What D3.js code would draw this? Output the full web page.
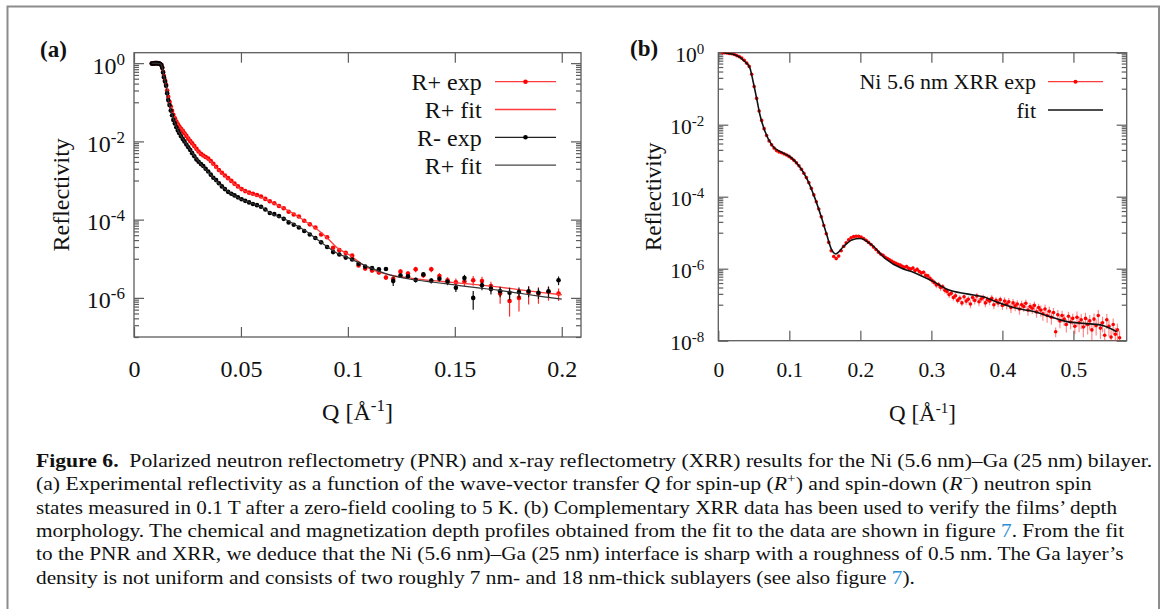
<!DOCTYPE html>
<html>
<head>
<meta charset="utf-8">
<script src="https://cdn.jsdelivr.net/npm/d3@7"></script>
<style>
  body { margin: 0; background: #fff; }
  svg { display: block; }
  text { font-family: "Liberation Serif", "Times New Roman", serif; fill: #111; }
</style>
</head>
<body>
<svg id="fig" width="1165" height="609"></svg>
<script>
// ---- panel (a): PNR, Q in 1/A, reflectivity stored as log10(R) ----
const qPNR = [0.0083, 0.0088, 0.0093, 0.0098, 0.0103, 0.0108, 0.0113, 0.0118, 0.0123, 0.0128,
  0.0132, 0.0136, 0.0140, 0.0145, 0.0150, 0.0155, 0.0160, 0.0166, 0.0172, 0.0178,
  0.0184, 0.0191, 0.0198, 0.0205, 0.0212, 0.0220, 0.0228, 0.0236, 0.0245, 0.0254,
  0.0263, 0.0272, 0.0282, 0.0292, 0.0302, 0.0313, 0.0324, 0.0335, 0.0347, 0.0359,
  0.0371, 0.0384, 0.0397, 0.0411, 0.0425, 0.0440, 0.0455, 0.0470, 0.0486, 0.0503,
  0.0520, 0.0538, 0.0556, 0.0575, 0.0594, 0.0614, 0.0635, 0.0656, 0.0678, 0.0700,
  0.0723, 0.0747, 0.0771, 0.0796, 0.0822, 0.0848, 0.0875, 0.0903, 0.0931, 0.0960,
  0.0990, 0.1020, 0.1050, 0.1081, 0.1113, 0.1145, 0.1178, 0.1212, 0.1246, 0.1281,
  0.1317, 0.1353, 0.1390, 0.1428, 0.1466, 0.1505, 0.1545, 0.1586, 0.1627, 0.1669,
  0.1712, 0.1756, 0.1800, 0.1845, 0.1891, 0.1938, 0.1985];

const rPlusLog = [-0.01, -0.01, -0.01, 0.00, 0.00, 0.00, -0.01, -0.01, -0.02, -0.05,
  -0.11, -0.22, -0.33, -0.44, -0.55, -0.70, -0.86, -0.99, -1.11, -1.22,
  -1.32, -1.41, -1.49, -1.56, -1.62, -1.68, -1.73, -1.79, -1.86, -1.93,
  -1.99, -2.05, -2.12, -2.19, -2.26, -2.32, -2.36, -2.40, -2.44, -2.50,
  -2.57, -2.65, -2.73, -2.80, -2.87, -2.94, -3.01, -3.08, -3.15, -3.22,
  -3.27, -3.31, -3.34, -3.37, -3.41, -3.47, -3.53, -3.58, -3.65, -3.71,
  -3.80, -3.87, -3.92, -4.03, -4.12, -4.20, -4.38, -4.45, -4.72, -4.78,
  -4.85, -4.92, -5.17, -5.25, -5.30, -5.35, -5.48, -5.51, -5.33, -5.38,
  -5.27, -5.42, -5.27, -5.44, -5.55, -5.60, -5.58, -5.55, -5.57, -5.70,
  -5.89, -6.08, -6.00, -5.87, -5.89, -5.85, -5.89];

const rMinusLog = [-0.01, -0.01, -0.01, 0.00, 0.00, 0.00, -0.01, -0.01, -0.02, -0.05,
  -0.12, -0.24, -0.36, -0.47, -0.58, -0.77, -0.94, -1.07, -1.21, -1.33,
  -1.45, -1.54, -1.64, -1.72, -1.79, -1.87, -1.94, -2.00, -2.08, -2.15,
  -2.22, -2.30, -2.38, -2.46, -2.52, -2.58, -2.63, -2.70, -2.77, -2.85,
  -2.93, -2.99, -3.07, -3.15, -3.22, -3.29, -3.34, -3.38, -3.43, -3.48,
  -3.52, -3.56, -3.60, -3.63, -3.67, -3.74, -3.83, -3.86, -3.91, -3.98,
  -4.07, -4.13, -4.20, -4.29, -4.38, -4.47, -4.58, -4.70, -4.83, -4.89,
  -4.97, -5.02, -5.13, -5.20, -5.24, -5.27, -5.26, -5.57, -5.43, -5.45,
  -5.54, -5.40, -5.56, -5.51, -5.59, -5.74, -5.49, -6.00, -5.68, -5.77,
  -5.83, -5.87, -5.85, -5.83, -5.87, -5.83, -5.55];

// relative error dR/R
const errPlus = [0.02, 0.02, 0.02, 0.02, 0.02, 0.02, 0.02, 0.02, 0.02, 0.02,
  0.02, 0.02, 0.02, 0.02, 0.02, 0.02, 0.02, 0.02, 0.02, 0.02,
  0.02, 0.02, 0.02, 0.02, 0.02, 0.02, 0.02, 0.02, 0.02, 0.02,
  0.02, 0.02, 0.02, 0.02, 0.02, 0.02, 0.02, 0.02, 0.02, 0.02,
  0.02, 0.02, 0.02, 0.02, 0.02, 0.02, 0.02, 0.02, 0.02, 0.02,
  0.02, 0.02, 0.02, 0.02, 0.02, 0.02, 0.02, 0.02, 0.02, 0.02,
  0.02, 0.02, 0.02, 0.02, 0.02, 0.02, 0.02, 0.02, 0.02, 0.02,
  0.10, 0.10, 0.10, 0.12, 0.12, 0.12, 0.14, 0.25, 0.15, 0.15,
  0.16, 0.15, 0.16, 0.18, 0.20, 0.25, 0.25, 0.28, 0.28, 0.30,
  0.45, 0.60, 0.55, 0.50, 0.45, 0.40, 0.35];

const errMinus = [0.02, 0.02, 0.02, 0.02, 0.02, 0.02, 0.02, 0.02, 0.02, 0.02,
  0.02, 0.02, 0.02, 0.02, 0.02, 0.02, 0.02, 0.02, 0.02, 0.02,
  0.02, 0.02, 0.02, 0.02, 0.02, 0.02, 0.02, 0.02, 0.02, 0.02,
  0.02, 0.02, 0.02, 0.02, 0.02, 0.02, 0.02, 0.02, 0.02, 0.02,
  0.02, 0.02, 0.02, 0.02, 0.02, 0.02, 0.02, 0.02, 0.02, 0.02,
  0.02, 0.02, 0.02, 0.02, 0.02, 0.02, 0.02, 0.02, 0.02, 0.02,
  0.02, 0.02, 0.02, 0.02, 0.02, 0.02, 0.02, 0.02, 0.02, 0.02,
  0.08, 0.08, 0.08, 0.10, 0.10, 0.10, 0.10, 0.25, 0.12, 0.12,
  0.14, 0.12, 0.15, 0.15, 0.18, 0.22, 0.20, 0.50, 0.25, 0.28,
  0.30, 0.35, 0.30, 0.30, 0.30, 0.30, 0.25];

const fitQA = [0.0083, 0.0125, 0.0130, 0.0135, 0.0140, 0.0150, 0.0160, 0.0175, 0.019, 0.021,
  0.023, 0.026, 0.030, 0.035, 0.040, 0.045, 0.050, 0.055, 0.060, 0.065,
  0.070, 0.075, 0.080, 0.085, 0.090, 0.095, 0.100, 0.110, 0.120, 0.130,
  0.140, 0.150, 0.160, 0.170, 0.180, 0.190, 0.200];
const fitPlusLog = [0, -0.02, -0.07, -0.18, -0.33, -0.55, -0.86, -1.16, -1.41, -1.60,
  -1.74, -1.96, -2.26, -2.47, -2.76, -3.00, -3.22, -3.34, -3.44, -3.58,
  -3.71, -3.86, -4.04, -4.22, -4.45, -4.72, -4.88, -5.25, -5.42, -5.50,
  -5.56, -5.61, -5.66, -5.72, -5.79, -5.86, -5.92];
const fitMinusLog = [0, -0.02, -0.08, -0.20, -0.36, -0.58, -0.94, -1.26, -1.52, -1.77,
  -1.95, -2.19, -2.50, -2.80, -3.10, -3.32, -3.48, -3.58, -3.69, -3.87,
  -3.97, -4.12, -4.28, -4.48, -4.68, -4.86, -4.97, -5.22, -5.42, -5.53,
  -5.60, -5.67, -5.74, -5.80, -5.88, -5.96, -6.03];

// ---- panel (b): XRR ----
const xrrQ = [0.006, 0.0085, 0.012, 0.0155, 0.019, 0.0225, 0.026, 0.0295, 0.033, 0.0365,
  0.040, 0.0435, 0.047, 0.0505, 0.054, 0.0575, 0.061, 0.0645, 0.068, 0.0715,
  0.075, 0.0785, 0.082, 0.0855, 0.089, 0.0925, 0.096, 0.0995, 0.103, 0.1065,
  0.110, 0.1135, 0.117, 0.1205, 0.124, 0.1275, 0.131, 0.1345, 0.138, 0.1415,
  0.145, 0.1485, 0.152, 0.1555, 0.159, 0.1625, 0.166, 0.1695, 0.173, 0.1765,
  0.180, 0.1835, 0.187, 0.1905, 0.194, 0.1975, 0.201, 0.2045, 0.208, 0.2115,
  0.215, 0.2185, 0.222, 0.2255, 0.229,
  0.232, 0.235, 0.238, 0.241, 0.244, 0.247, 0.250, 0.253, 0.256,
  0.259, 0.262, 0.265, 0.268, 0.271, 0.274, 0.277, 0.280, 0.283, 0.286, 0.289, 0.292, 0.295, 0.298,
  0.301, 0.304, 0.307, 0.310, 0.313, 0.316, 0.319, 0.322, 0.325, 0.328, 0.331, 0.334, 0.337, 0.340, 0.343, 0.346, 0.349,
  0.352, 0.355, 0.358, 0.361, 0.364, 0.367, 0.370, 0.373, 0.376, 0.379, 0.382, 0.385, 0.388, 0.391, 0.394, 0.397, 0.400,
  0.403, 0.406, 0.409, 0.412, 0.415, 0.418, 0.421, 0.424, 0.427, 0.430, 0.433, 0.436, 0.439, 0.442, 0.445, 0.448, 0.451,
  0.454, 0.457, 0.460, 0.463, 0.466, 0.469, 0.472, 0.475, 0.478, 0.481, 0.484, 0.487, 0.490, 0.493, 0.496, 0.499, 0.502,
  0.505, 0.508, 0.511, 0.514, 0.517, 0.520, 0.523, 0.526, 0.529, 0.532, 0.535, 0.538, 0.541, 0.544, 0.547, 0.550, 0.553, 0.556, 0.559, 0.562, 0.565];

const xrrLog = [0.00, 0.00, -0.01, -0.02, -0.03, -0.05, -0.08, -0.11, -0.15, -0.21,
  -0.29, -0.38, -0.60, -0.94, -1.27, -1.62, -1.88, -2.11, -2.30, -2.45,
  -2.56, -2.65, -2.72, -2.76, -2.78, -2.81, -2.84, -2.88, -2.93, -2.99,
  -3.06, -3.14, -3.24, -3.35, -3.47, -3.61, -3.77, -3.95, -4.14, -4.34,
  -4.56, -4.80, -5.03, -5.27, -5.50, -5.66, -5.72, -5.65, -5.50, -5.38,
  -5.28, -5.20, -5.14, -5.11, -5.10, -5.10, -5.12, -5.16, -5.21, -5.27,
  -5.33, -5.40, -5.47, -5.54, -5.60,
  -5.63, -5.68, -5.72, -5.75, -5.79, -5.82, -5.85, -5.88, -5.90,
  -5.93, -5.96, -5.94, -5.99, -6.01, -5.98, -6.05, -6.02, -6.08, -6.12, -6.10, -6.18, -6.20, -6.27,
  -6.33, -6.38, -6.45, -6.44, -6.52, -6.50, -6.60, -6.63, -6.72, -6.68, -6.80, -6.75, -6.88, -6.82, -6.95, -6.78, -6.90,
  -6.85, -6.98, -6.80, -6.88, -6.76, -6.92, -6.84, -6.80, -6.95, -6.86, -6.90, -6.82, -7.00, -6.88, -6.95, -6.86, -7.02,
  -6.90, -6.98, -6.92, -7.08, -6.95, -7.03, -6.98, -7.12, -7.00, -7.05, -6.96, -7.15, -7.05, -7.10, -7.02, -7.20, -7.08,
  -7.15, -7.25, -7.12, -7.30, -7.18, -7.35, -7.22, -7.75, -7.28, -7.45, -7.30, -7.40, -7.55, -7.32, -7.48, -7.38, -7.60,
  -7.35, -7.50, -7.42, -7.62, -7.38, -7.55, -7.45, -7.70, -7.40, -7.58, -7.30, -7.65, -7.50, -7.85, -7.42, -7.60, -7.90, -7.55, -7.82, -7.70, -7.92];

const xrrErr = [0.02, 0.02, 0.02, 0.02, 0.02, 0.02, 0.02, 0.02, 0.02, 0.02,
  0.02, 0.02, 0.02, 0.02, 0.02, 0.02, 0.02, 0.02, 0.02, 0.02,
  0.02, 0.02, 0.02, 0.02, 0.02, 0.02, 0.02, 0.02, 0.02, 0.02,
  0.02, 0.02, 0.02, 0.02, 0.02, 0.02, 0.02, 0.02, 0.02, 0.02,
  0.03, 0.03, 0.03, 0.04, 0.04, 0.05, 0.05, 0.05, 0.05, 0.05,
  0.05, 0.05, 0.05, 0.05, 0.05, 0.05, 0.05, 0.05, 0.05, 0.06,
  0.06, 0.06, 0.06, 0.07, 0.07,
  0.08, 0.08, 0.09, 0.08, 0.09, 0.08, 0.10, 0.09, 0.10,
  0.12, 0.11, 0.13, 0.12, 0.12, 0.14, 0.12, 0.13, 0.12, 0.14, 0.12, 0.13, 0.14, 0.15,
  0.18, 0.17, 0.19, 0.18, 0.20, 0.18, 0.19, 0.18, 0.20, 0.18, 0.19, 0.21, 0.18, 0.20, 0.19, 0.18, 0.21,
  0.22, 0.24, 0.21, 0.23, 0.22, 0.25, 0.22, 0.21, 0.24, 0.22, 0.23, 0.22, 0.25, 0.22, 0.24, 0.23, 0.25,
  0.28, 0.30, 0.27, 0.29, 0.28, 0.30, 0.27, 0.31, 0.28, 0.29, 0.27, 0.30, 0.28, 0.30, 0.29, 0.31, 0.28,
  0.35, 0.36, 0.33, 0.37, 0.35, 0.38, 0.34, 0.30, 0.35, 0.38, 0.35, 0.36, 0.40, 0.34, 0.37, 0.35, 0.40,
  0.45, 0.46, 0.44, 0.48, 0.43, 0.47, 0.45, 0.50, 0.44, 0.47, 0.42, 0.50, 0.46, 0.55, 0.44, 0.48, 0.55, 0.46, 0.52, 0.50, 0.55];

const fitQB = [0.007, 0.0235, 0.0376, 0.0446, 0.049, 0.054, 0.0587, 0.0658, 0.0752, 0.0893,
  0.101, 0.1127, 0.1245, 0.136, 0.1456, 0.1527, 0.1597, 0.1653, 0.176, 0.188,
  0.1995, 0.216, 0.2348, 0.258, 0.272, 0.284, 0.303, 0.322, 0.350, 0.373,
  0.397, 0.420, 0.444, 0.467, 0.491, 0.514, 0.538, 0.552, 0.561];
const fitBLog = [0.00, -0.06, -0.25, -0.43, -0.80, -1.27, -1.73, -2.19, -2.56, -2.77,
  -2.89, -3.12, -3.49, -4.04, -4.60, -5.06, -5.48, -5.59, -5.39, -5.20,
  -5.16, -5.34, -5.71, -5.99, -6.08, -6.18, -6.36, -6.57, -6.70, -6.78,
  -6.96, -7.10, -7.19, -7.33, -7.47, -7.52, -7.56, -7.66, -7.75];

const xTicksA = [0, 0.05, 0.1, 0.15, 0.2];
const xTicksB = [0, 0.1, 0.2, 0.3, 0.4, 0.5];
const yMajorsA = [1, 1e-2, 1e-4, 1e-6];
const yMajorsB = [1, 1e-2, 1e-4, 1e-6, 1e-8];
const legendA = ["R+ exp", "R+ fit", "R- exp", "R+ fit"];
const legendB = ["Ni 5.6 nm XRR exp", "fit"];

const captionLines = [
  [["Figure 6.", "b"], ["  Polarized neutron reflectometry (PNR) and x-ray reflectometry (XRR) results for the Ni (5.6 nm)–Ga (25 nm) bilayer.", ""]],
  [["(a) Experimental reflectivity as a function of the wave-vector transfer ", ""], ["Q", "i"], [" for spin-up (", ""], ["R", "i"], ["+", "sup"], [") and spin-down (", ""], ["R", "i"], ["−", "sup"], [") neutron spin", ""]],
  [["states measured in 0.1 T after a zero-field cooling to 5 K. (b) Complementary XRR data has been used to verify the films’ depth", ""]],
  [["morphology. The chemical and magnetization depth profiles obtained from the fit to the data are shown in figure ", ""], ["7", "link"], [". From the fit", ""]],
  [["to the PNR and XRR, we deduce that the Ni (5.6 nm)–Ga (25 nm) interface is sharp with a roughness of 0.5 nm. The Ga layer’s", ""]],
  [["density is not uniform and consists of two roughly 7 nm- and 18 nm-thick sublayers (see also figure ", ""], ["7", "link"], [").", ""]]
];

const svg = d3.select("#fig");
const axisColor = "#5c5c5c";

svg.append("rect").attr("width", 1165).attr("height", 609).attr("fill", "#fff");
// outer figure box (open at the bottom)
svg.append("path")
  .attr("d", "M7.5,609V6.5H1159V609")
  .attr("fill", "none")
  .attr("stroke", "#8c8c8c")
  .attr("stroke-width", 2);

function minorTicks(majors, domain) {
  const out = [];
  majors.forEach(m => {
    for (let k = 1; k <= 9; k++) {
      const v = k * m / 10;
      if (v >= domain[0] * 0.999 && v <= domain[1]) out.push(v);
    }
  });
  return out;
}

function styleAxis(sel) {
  sel.select(".domain").remove();
  sel.selectAll(".tick line").attr("stroke", axisColor).attr("stroke-width", 1.2);
}

function drawPanel(c) {
  const g = svg.append("g");
  const x = d3.scaleLinear().domain(c.xDomain).range([c.l, c.r]);
  const y = d3.scaleLog().domain(c.yDomain).range([c.b, c.t]);
  const clipId = "clip-" + c.name;
  svg.append("clipPath").attr("id", clipId).append("rect")
    .attr("x", c.l).attr("y", c.t).attr("width", c.r - c.l).attr("height", c.b - c.t);

  const minors = minorTicks(c.yMajors, c.yDomain);

  // x axis (bottom labelled, top mirrored)
  const xb = g.append("g").attr("transform", `translate(0,${c.b})`)
    .call(d3.axisBottom(x).tickValues(c.xTicks).tickFormat(d => String(d)).tickSize(-10).tickPadding(c.xPad))
    .call(styleAxis);
  xb.selectAll("text").attr("font-size", c.tickFont).style("font-family", "'Liberation Serif'").attr("fill", "#111");
  g.append("g").attr("transform", `translate(0,${c.t})`)
    .call(d3.axisTop(x).tickValues(c.xTicks).tickFormat("").tickSize(-10))
    .call(styleAxis);

  // y axis majors with 10^n labels
  const yl = g.append("g").attr("transform", `translate(${c.l},0)`)
    .call(d3.axisLeft(y).tickValues(c.yMajors).tickFormat("").tickSize(-10).tickPadding(c.yPad))
    .call(styleAxis);
  yl.selectAll(".tick text").each(function(d) {
    const t = d3.select(this)
      .attr("font-size", c.tickFont).style("font-family", "'Liberation Serif'").attr("fill", "#111")
      .attr("dy", "0.42em");
    t.append("tspan").text("10");
    t.append("tspan").attr("dy", -c.supRise).attr("font-size", c.supFont)
      .text(String(Math.round(Math.log10(d))));
  });
  g.append("g").attr("transform", `translate(${c.l},0)`)
    .call(d3.axisLeft(y).tickValues(minors).tickFormat("").tickSize(-5))
    .call(styleAxis);
  g.append("g").attr("transform", `translate(${c.r},0)`)
    .call(d3.axisRight(y).tickValues(c.yMajors).tickFormat("").tickSize(-10))
    .call(styleAxis);
  g.append("g").attr("transform", `translate(${c.r},0)`)
    .call(d3.axisRight(y).tickValues(minors).tickFormat("").tickSize(-5))
    .call(styleAxis);

  g.append("rect")
    .attr("x", c.l).attr("y", c.t).attr("width", c.r - c.l).attr("height", c.b - c.t)
    .attr("fill", "none").attr("stroke", axisColor).attr("stroke-width", 1.3);

  // axis titles
  g.append("text")
    .attr("transform", `translate(${c.yTitleX},${(c.t + c.b) / 2}) rotate(-90)`)
    .attr("text-anchor", "middle").attr("dy", "0.35em")
    .attr("font-size", c.titleFont)
    .text("Reflectivity");
  const xt = g.append("text")
    .attr("x", (c.l + c.r) / 2).attr("y", c.xTitleY)
    .attr("text-anchor", "middle").attr("font-size", c.titleFont);
  xt.append("tspan").text("Q [Å");
  xt.append("tspan").attr("dy", -c.supRise).attr("font-size", c.supFont).text("-1");
  xt.append("tspan").attr("dy", c.supRise).text("]");

  g.append("text")
    .attr("x", c.tagX).attr("y", c.tagY)
    .attr("font-size", 23).attr("font-weight", "bold")
    .text(c.tag);

  return { g, x, y, clipId };
}

function drawPoints(p, qs, logs, errs, color, radius, errColor) {
  const pts = qs.map((q, i) => ({ q, r: Math.pow(10, logs[i]), e: errs[i] }));
  const layer = p.g.append("g").attr("clip-path", `url(#${p.clipId})`);
  layer.selectAll("line")
    .data(pts.filter(d => d.e > 0.05))
    .join("line")
    .attr("x1", d => p.x(d.q)).attr("x2", d => p.x(d.q))
    .attr("y1", d => p.y(d.r * (1 + d.e)))
    .attr("y2", d => p.y(Math.max(d.r * (1 - d.e), 1e-12)))
    .attr("stroke", errColor).attr("stroke-width", 1.2);
  layer.selectAll("circle")
    .data(pts)
    .join("circle")
    .attr("cx", d => p.x(d.q))
    .attr("cy", d => p.y(d.r))
    .attr("r", radius)
    .attr("fill", color);
}

function drawFit(p, qs, logs, color, width) {
  const line = d3.line()
    .x(d => p.x(d[0]))
    .y(d => p.y(Math.pow(10, d[1])))
    .curve(d3.curveMonotoneX);
  p.g.append("path")
    .attr("clip-path", `url(#${p.clipId})`)
    .attr("d", line(qs.map((q, i) => [q, logs[i]])))
    .attr("fill", "none").attr("stroke", color).attr("stroke-width", width);
}

function drawLegend(p, items, o) {
  items.forEach((it, i) => {
    const yy = o.y0 + i * o.dy;
    p.g.append("text")
      .attr("x", o.textRight).attr("y", yy).attr("dy", "0.35em")
      .attr("text-anchor", "end").attr("font-size", o.font)
      .text(it.label);
    p.g.append("line")
      .attr("x1", o.x1).attr("x2", o.x2).attr("y1", yy).attr("y2", yy)
      .attr("stroke", it.color).attr("stroke-width", it.width);
    if (it.dot) {
      p.g.append("circle").attr("cx", (o.x1 + o.x2) / 2).attr("cy", yy)
        .attr("r", o.r).attr("fill", it.dot);
    }
  });
}

// ---- panel (a) ----
const pa = drawPanel({
  name: "a", l: 134, r: 581, t: 52.7, b: 337,
  xDomain: [0, 0.209], yDomain: [1e-7, 1.85],
  xTicks: xTicksA, yMajors: yMajorsA,
  tickFont: 24, supFont: 17, supRise: 9, titleFont: 24,
  xPad: 23, yPad: 9, yTitleX: 60.5, xTitleY: 420,
  tag: "(a)", tagX: 40, tagY: 57
});
drawPoints(pa, qPNR, rPlusLog, errPlus, "#ff0000", 2.3, "#ff2a2a");
drawFit(pa, fitQA, fitPlusLog, "#ff3b3b", 1.3);
drawPoints(pa, qPNR, rMinusLog, errMinus, "#000", 2.3, "#111");
drawFit(pa, fitQA, fitMinusLog, "#333", 1.2);
drawLegend(pa, [
  { label: legendA[0], color: "#ff3b3b", width: 1.3, dot: "#ff0000" },
  { label: legendA[1], color: "#ff3b3b", width: 1.3 },
  { label: legendA[2], color: "#222", width: 1.3, dot: "#000" },
  { label: legendA[3], color: "#444", width: 1.3 }
], { y0: 81.7, dy: 27.8, textRight: 481.7, x1: 495, x2: 556, font: 24, r: 2.3 });

// ---- panel (b) ----
const pb = drawPanel({
  name: "b", l: 718.3, r: 1126.7, t: 52.7, b: 340.7,
  xDomain: [0, 0.575], yDomain: [1e-8, 1],
  xTicks: xTicksB, yMajors: yMajorsB,
  tickFont: 21.5, supFont: 15, supRise: 8, titleFont: 23,
  xPad: 21.5, yPad: 14, yTitleX: 653, xTitleY: 421,
  tag: "(b)", tagX: 630, tagY: 56
});
drawPoints(pb, xrrQ, xrrLog, xrrErr, "#ff0000", 1.8, "rgba(255,40,40,0.55)");
drawFit(pb, fitQB, fitBLog, "#111", 1.6);
drawLegend(pb, [
  { label: legendB[0], color: "#ff3b3b", width: 1.3, dot: "#ff0000" },
  { label: legendB[1], color: "#111", width: 1.6 }
], { y0: 81.7, dy: 28.3, textRight: 1036, x1: 1048, x2: 1103, font: 22, r: 2 });

// ---- caption ----
const capBase = [467, 490.3, 513.6, 536.9, 560.2, 583.5];
const capWidth = [1117, 1056, 1082, 1089, 1088, 879];
captionLines.forEach((parts, i) => {
  const t = svg.append("text").attr("font-size", 18.5).style("white-space", "pre").attr("fill", "#1a1a1a");
  let lift = 0;
  parts.forEach(([txt, st]) => {
    const ts = t.append("tspan").text(txt);
    if (lift) { ts.attr("dy", lift); lift = 0; }
    if (st === "b") ts.attr("font-weight", "bold");
    if (st === "i") ts.attr("font-style", "italic");
    if (st === "link") ts.attr("fill", "#2a8fd6");
    if (st === "sup") { ts.attr("dy", -7).attr("font-size", 13); lift = 7; }
  });
  const w = t.node().getComputedTextLength();
  t.attr("transform", `translate(36,${capBase[i]}) scale(${capWidth[i] / w},1)`);
});
</script>
</body>
</html>
